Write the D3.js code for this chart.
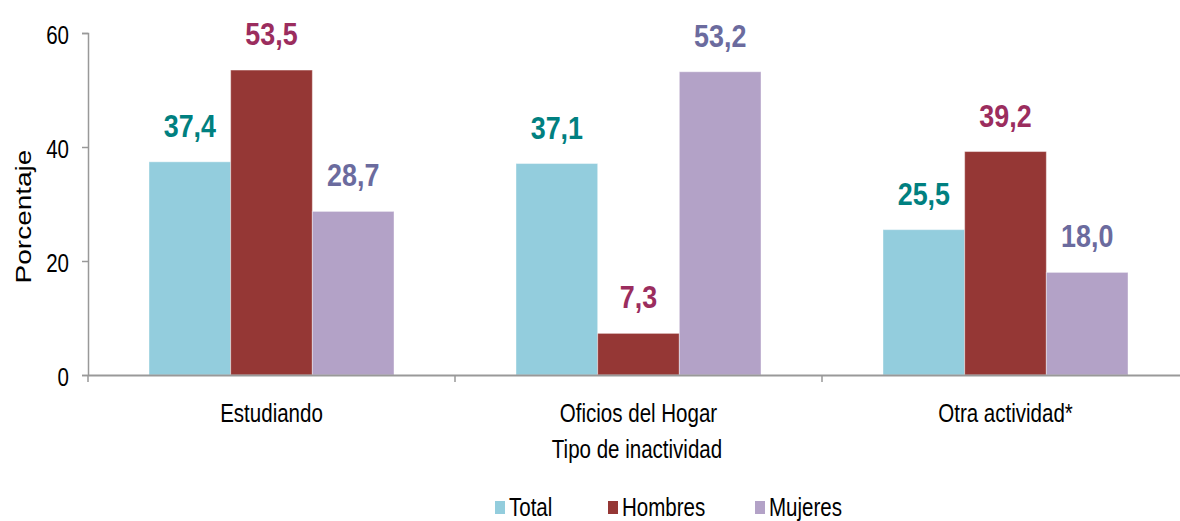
<!DOCTYPE html>
<html><head><meta charset="utf-8">
<script src="https://cdn.jsdelivr.net/npm/d3@7"></script>
<style>
body{margin:0;background:#fff;}
text{font-family:"Liberation Sans",Arial,sans-serif;}
</style></head>
<body><svg id="c" width="1180" height="521"></svg>
<script>
const categories = ["Estudiando", "Oficios del Hogar", "Otra actividad*"];
const seriesNames = ["Total", "Hombres", "Mujeres"];
const total = [37.4, 37.1, 25.5];
const hombres = [53.5, 7.3, 39.2];
const mujeres = [28.7, 53.2, 18.0];
const yTicks = [0, 20, 40, 60];
const barColors = ["#93CDDD", "#953735", "#B3A2C7"];
const labelColors = ["#008080", "#9B2D5E", "#6B6B9E"];

const values = [total, hombres, mujeres];
const svg = d3.select("#c");
const mLeft = 88, mRight = 1189, mTop = 33, mBottom = 375;
const SX = 0.79;   // horizontal condensing of text (narrow look)

const x0 = d3.scaleBand().domain(categories).range([mLeft, mRight]).paddingInner(0).paddingOuter(0);
const x1 = d3.scaleBand().domain(seriesNames).range([61, x0.bandwidth() - 61]).padding(0);
const y = d3.scaleLinear().domain([0, 60]).range([mBottom, mTop]);

function ntext(parent, x, yy, str, size, anchor, opts = {}) {
  const sx = opts.sx || SX;
  return parent.append("text")
    .attr("transform", `translate(${x},${yy}) scale(${sx},1)`)
    .attr("text-anchor", anchor)
    .attr("font-size", size)
    .attr("font-weight", opts.weight || "normal")
    .attr("fill", opts.fill || "#000")
    .text(str);
}

// bars
categories.forEach((c, ci) => {
  seriesNames.forEach((s, si) => {
    const v = values[si][ci];
    svg.append("rect")
      .attr("x", x0(c) + x1(s))
      .attr("y", y(v))
      .attr("width", x1.bandwidth())
      .attr("height", y(0) - y(v))
      .attr("fill", barColors[si])
      .attr("stroke", "#fff").attr("stroke-opacity", 0.4).attr("stroke-width", 1);
    ntext(svg, x0(c) + x1(s) + x1.bandwidth() / 2, y(v) - 25,
      v.toFixed(1).replace(".", ","), 32, "middle",
      { weight: "bold", fill: labelColors[si], sx: 0.84 });
  });
});

// y axis
const yAxis = d3.axisLeft(y).tickValues(yTicks).tickSize(6).tickPadding(10);
const gy = svg.append("g").attr("transform", `translate(${mLeft},0)`).call(yAxis);
gy.select(".domain").attr("stroke", "#999").attr("stroke-width", 1.5);
gy.selectAll(".tick line").attr("stroke", "#999").attr("stroke-width", 1.5);
gy.selectAll(".tick text")
  .attr("font-size", 26).attr("fill", "#000")
  .attr("font-family", '"Liberation Sans",Arial,sans-serif')
  .attr("x", -19 / SX).attr("dy", "0.42em")
  .attr("transform", `scale(${SX},1)`);

// x axis
const xAxis = d3.axisBottom(x0).tickSize(0).tickPadding(0);
const gx = svg.append("g").attr("transform", `translate(0,${mBottom})`).call(xAxis);
gx.select(".domain").attr("stroke", "#999").attr("stroke-width", 2);
gx.selectAll(".tick text")
  .attr("font-size", 26).attr("fill", "#000")
  .attr("font-family", '"Liberation Sans",Arial,sans-serif')
  .attr("y", 47).attr("dy", 0)
  .attr("transform", `scale(${SX},1)`);
// category separator ticks
const sepTicks = categories.map(c => x0(c)).concat([mRight]);
svg.selectAll(".sep").data(sepTicks).enter().append("line")
  .attr("x1", d => d).attr("x2", d => d).attr("y1", mBottom).attr("y2", mBottom + 7)
  .attr("stroke", "#999").attr("stroke-width", 1.5);

// axis titles
svg.append("text").attr("transform", `translate(31,216.5) rotate(-90) scale(1,${SX})`)
  .attr("text-anchor", "middle").attr("font-size", 28).attr("fill", "#000")
  .text("Porcentaje");
ntext(svg, 637, 458, "Tipo de inactividad", 26, "middle");

// legend
const legendX = [495, 608, 755];
seriesNames.forEach((s, i) => {
  const g = svg.append("g").attr("transform", `translate(${legendX[i]},501)`);
  g.append("rect").attr("x", 0).attr("y", 0).attr("width", 10).attr("height", 13).attr("fill", barColors[i]);
  ntext(g, 14, 15, s, 26, "start");
});
</script></body></html>
